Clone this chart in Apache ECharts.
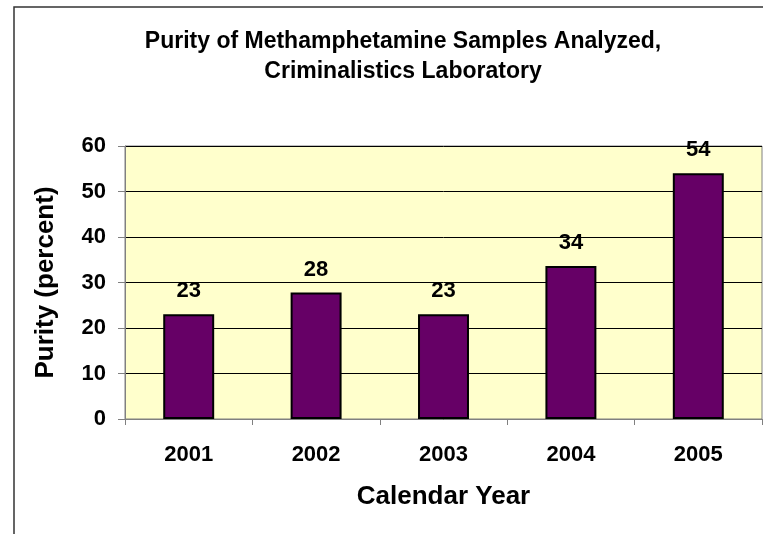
<!DOCTYPE html>
<html>
<head>
<meta charset="utf-8">
<title>Purity of Methamphetamine Samples</title>
<script src="https://cdn.jsdelivr.net/npm/echarts@6/dist/echarts.min.js"></script>
<style>
    html, body { margin: 0; padding: 0; background: #fff; }
    #chart { width: 763px; height: 534px; }
</style>
</head>
<body>
<div id="chart"></div>
<script>
    // data
    const years = ['2001', '2002', '2003', '2004', '2005'];
    const purity = [23.0, 27.8, 23.0, 33.6, 54.0];
    const purityLabels = ['23', '28', '23', '34', '54'];

    const font = '"Liberation Sans", Arial, sans-serif';
    const chart = echarts.init(document.getElementById('chart'));

    chart.setOption({
        animation: false,
        backgroundColor: '#fff',
        textStyle: { fontFamily: font },
        graphic: [{
            type: 'rect',
            shape: { x: 14, y: 7, width: 800, height: 600 },
            style: { fill: 'none', stroke: '#333', lineWidth: 1.5 },
            z: 100
        }],
        title: {
            text: 'Purity of Methamphetamine Samples Analyzed,\nCriminalistics Laboratory',
            left: 398,
            top: 22,
            textAlign: 'center',
            textStyle: {
                fontFamily: font,
                fontSize: 23,
                fontWeight: 'bold',
                color: '#000',
                lineHeight: 30
            }
        },
        grid: {
            left: 125,
            right: 1,
            top: 146,
            bottom: 115,
            show: true,
            backgroundColor: '#FFFFCC',
            borderColor: '#808080',
            borderWidth: 1
        },
        xAxis: {
            type: 'category',
            data: years,
            name: 'Calendar Year',
            nameLocation: 'middle',
            nameGap: 65,
            nameTextStyle: { fontFamily: font, fontSize: 26, fontWeight: 'bold', color: '#000' },
            axisLine: { lineStyle: { color: '#808080', width: 1 } },
            axisTick: { show: true, alignWithLabel: false, length: 6, lineStyle: { color: '#808080' } },
            axisLabel: { fontFamily: font, fontSize: 22, fontWeight: 'bold', color: '#000', margin: 25 }
        },
        yAxis: {
            type: 'value',
            min: 0,
            max: 60,
            interval: 10,
            name: 'Purity (percent)',
            nameLocation: 'middle',
            nameGap: 66,
            nameTextStyle: { fontFamily: font, fontSize: 26, fontWeight: 'bold', color: '#000' },
            axisLine: { show: true, lineStyle: { color: '#808080', width: 1 } },
            axisTick: { show: true, length: 7, lineStyle: { color: '#808080' } },
            axisLabel: { fontFamily: font, fontSize: 22, fontWeight: 'bold', color: '#000', margin: 19 },
            splitLine: { show: true, lineStyle: { color: '#000', width: 1 } }
        },
        series: [{
            type: 'bar',
            data: purity,
            barWidth: '40%',
            itemStyle: { color: '#660066', borderColor: '#000', borderWidth: 2 },
            label: {
                show: true,
                position: 'top',
                distance: 12,
                formatter: p => purityLabels[p.dataIndex],
                fontFamily: font,
                fontSize: 22,
                fontWeight: 'bold',
                color: '#000'
            }
        }]
    });
</script>
</body>
</html>
